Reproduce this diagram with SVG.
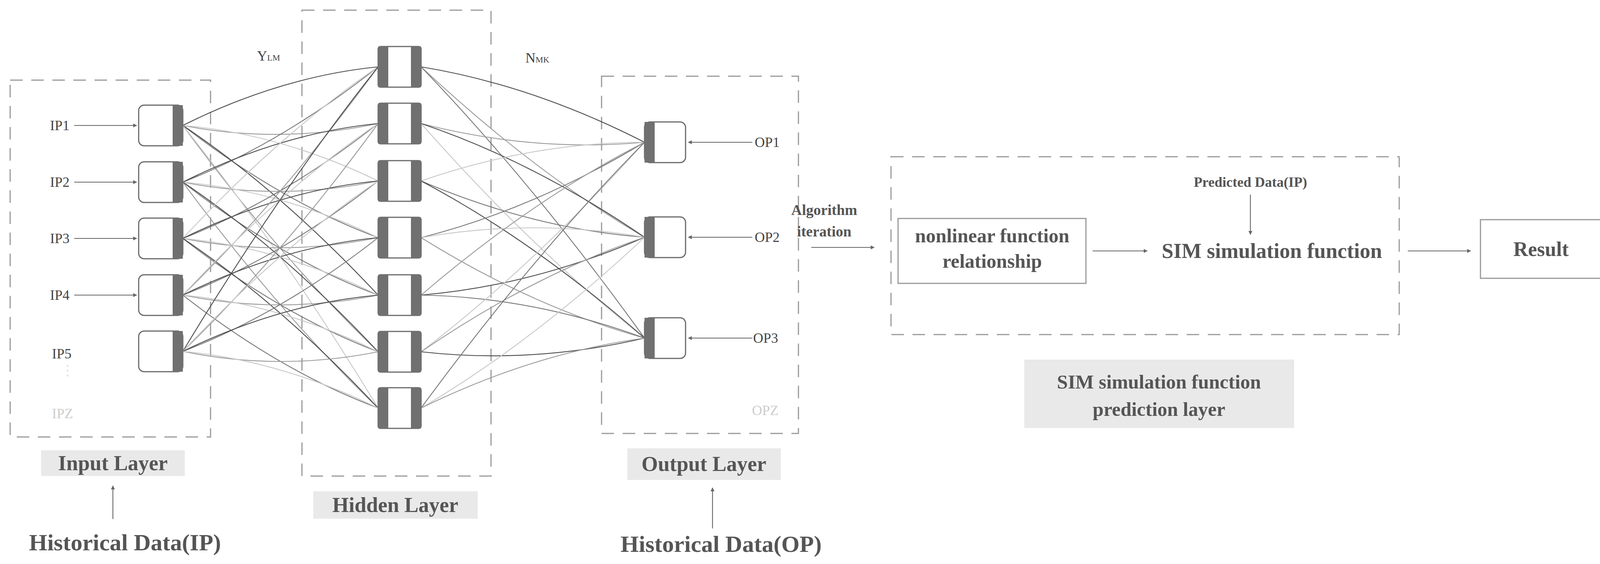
<svg xmlns="http://www.w3.org/2000/svg" width="4124" height="1443" viewBox="0 0 4124 1443">
<style>
.dash{fill:none;stroke:#9a9a9a;stroke-width:3;stroke-dasharray:32 22}
.nd{fill:#fff;stroke:#6a6a6a;stroke-width:3}
.bar{fill:#707070}
.lbl{font-family:"Liberation Serif",serif;font-size:36px;fill:#444}
.big{font-family:"Liberation Serif",serif;font-weight:bold;font-size:54px;fill:#555}
.hd{font-family:"Liberation Serif",serif;font-weight:bold;font-size:60px;fill:#555}
.cd{font-family:"Liberation Serif",serif;font-weight:bold;fill:#555}
.lb{fill:#e9e9e9}
.ar{stroke:#666;stroke-width:3;fill:none;marker-end:url(#ah)}
.c0{stroke:#4a4a4a}.c1{stroke:#9a9a9a}.c2{stroke:#c8c8c8}.c3{stroke:#777}
#conn path{fill:none;stroke-width:2.2}
</style>
<defs>
<marker id="ah" markerWidth="10" markerHeight="10" refX="9" refY="5" orient="auto" markerUnits="userSpaceOnUse" viewBox="0 0 10 10"><path d="M0,0 L10,5 L0,10 Z" fill="#666"/></marker>
</defs>
<rect width="4124" height="1443" fill="#fff"/>
<rect class="dash" x="26" y="205" width="513" height="913"/>
<rect class="dash" x="773" y="26" width="484" height="1192"/>
<rect class="dash" x="1540" y="195" width="504" height="914"/>
<rect class="dash" x="2281" y="401" width="1301" height="455"/>
<g id="conn">
<path class="c0" d="M468 321 Q718 196 968 171"/><path class="c1" d="M468 321 Q718 369 968 316"/><path class="c2" d="M468 321 Q718 342 968 463"/><path class="c3" d="M468 321 Q718 515 968 608"/><path class="c0" d="M468 321 Q718 488 968 755"/><path class="c1" d="M468 321 Q718 661 968 900"/><path class="c2" d="M468 321 Q718 633 968 1044"/>
<path class="c3" d="M468 466 Q718 369 968 171"/><path class="c0" d="M468 466 Q718 341 968 316"/><path class="c1" d="M468 466 Q718 515 968 463"/><path class="c2" d="M468 466 Q718 487 968 608"/><path class="c3" d="M468 466 Q718 661 968 755"/><path class="c0" d="M468 466 Q718 633 968 900"/><path class="c1" d="M468 466 Q718 805 968 1044"/>
<path class="c2" d="M468 610 Q718 341 968 171"/><path class="c3" d="M468 610 Q718 513 968 316"/><path class="c0" d="M468 610 Q718 487 968 463"/><path class="c1" d="M468 610 Q718 659 968 608"/><path class="c2" d="M468 610 Q718 633 968 755"/><path class="c3" d="M468 610 Q718 805 968 900"/><path class="c0" d="M468 610 Q718 777 968 1044"/>
<path class="c1" d="M468 755 Q718 513 968 171"/><path class="c2" d="M468 755 Q718 486 968 316"/><path class="c3" d="M468 755 Q718 659 968 463"/><path class="c0" d="M468 755 Q718 632 968 608"/><path class="c1" d="M468 755 Q718 805 968 755"/><path class="c2" d="M468 755 Q718 778 968 900"/><path class="c3" d="M468 755 Q718 950 968 1044"/>
<path class="c0" d="M468 899 Q718 485 968 171"/><path class="c1" d="M468 899 Q718 658 968 316"/><path class="c2" d="M468 899 Q718 631 968 463"/><path class="c3" d="M468 899 Q718 804 968 608"/><path class="c0" d="M468 899 Q718 777 968 755"/><path class="c1" d="M468 899 Q718 950 968 900"/><path class="c2" d="M468 899 Q718 922 968 1044"/>
<path class="c0" d="M1078 171 Q1364 218 1650 364"/><path class="c1" d="M1078 171 Q1364 439 1650 607"/><path class="c3" d="M1078 171 Q1364 468 1650 865"/>
<path class="c1" d="M1078 316 Q1364 390 1650 364"/><path class="c0" d="M1078 316 Q1364 412 1650 607"/><path class="c2" d="M1078 316 Q1364 640 1650 865"/>
<path class="c2" d="M1078 463 Q1364 364 1650 364"/><path class="c3" d="M1078 463 Q1364 585 1650 607"/><path class="c0" d="M1078 463 Q1364 614 1650 865"/>
<path class="c3" d="M1078 608 Q1364 536 1650 364"/><path class="c2" d="M1078 608 Q1364 558 1650 607"/><path class="c1" d="M1078 608 Q1364 786 1650 865"/>
<path class="c1" d="M1078 755 Q1364 510 1650 364"/><path class="c0" d="M1078 755 Q1364 731 1650 607"/><path class="c3" d="M1078 755 Q1364 760 1650 865"/>
<path class="c2" d="M1078 900 Q1364 682 1650 364"/><path class="c1" d="M1078 900 Q1364 704 1650 607"/><path class="c0" d="M1078 900 Q1364 932 1650 865"/>
<path class="c3" d="M1078 1044 Q1364 654 1650 364"/><path class="c2" d="M1078 1044 Q1364 876 1650 607"/><path class="c1" d="M1078 1044 Q1364 904 1650 865"/>
<path class="ar" d="M190 321 H350"/><path class="ar" d="M190 466 H350"/><path class="ar" d="M190 610 H350"/><path class="ar" d="M190 755 H350"/>
<path class="ar" d="M1926 364 H1762"/><path class="ar" d="M1926 607 H1762"/><path class="ar" d="M1926 865 H1762"/>
<path class="ar" d="M289 1328 V1243"/><path class="ar" d="M1824 1352 V1248"/>
<path class="ar" d="M2077 633 H2238"/><path class="ar" d="M2797 642 H2937"/><path class="ar" d="M3201 498 V600"/><path class="ar" d="M3604 642 H3765"/>
</g>
<g id="in1"><rect class="nd" x="355" y="269" width="113" height="104" rx="14"/><rect class="bar" x="442" y="269" width="26" height="104"/><text class="lbl" x="128" y="333">IP1</text></g>
<g id="in2"><rect class="nd" x="355" y="414" width="113" height="104" rx="14"/><rect class="bar" x="442" y="414" width="26" height="104"/><text class="lbl" x="128" y="478">IP2</text></g>
<g id="in3"><rect class="nd" x="355" y="558" width="113" height="104" rx="14"/><rect class="bar" x="442" y="558" width="26" height="104"/><text class="lbl" x="128" y="622">IP3</text></g>
<g id="in4"><rect class="nd" x="355" y="703" width="113" height="104" rx="14"/><rect class="bar" x="442" y="703" width="26" height="104"/><text class="lbl" x="128" y="767">IP4</text></g>
<g id="in5"><rect class="nd" x="355" y="847" width="113" height="104" rx="14"/><rect class="bar" x="442" y="847" width="26" height="104"/><text class="lbl" x="133" y="917">IP5</text></g>
<text class="lbl" x="133" y="1070" style="fill:#ccc">IPZ</text>
<text class="lbl" x="155" y="960" style="fill:#ddd">⋮</text>
<g id="h1"><rect class="nd" x="968" y="119" width="110" height="104" rx="6"/><rect class="bar" x="968" y="119" width="26" height="104"/><rect class="bar" x="1052" y="119" width="26" height="104"/></g>
<g id="h2"><rect class="nd" x="968" y="264" width="110" height="104" rx="6"/><rect class="bar" x="968" y="264" width="26" height="104"/><rect class="bar" x="1052" y="264" width="26" height="104"/></g>
<g id="h3"><rect class="nd" x="968" y="411" width="110" height="104" rx="6"/><rect class="bar" x="968" y="411" width="26" height="104"/><rect class="bar" x="1052" y="411" width="26" height="104"/></g>
<g id="h4"><rect class="nd" x="968" y="556" width="110" height="104" rx="6"/><rect class="bar" x="968" y="556" width="26" height="104"/><rect class="bar" x="1052" y="556" width="26" height="104"/></g>
<g id="h5"><rect class="nd" x="968" y="703" width="110" height="104" rx="6"/><rect class="bar" x="968" y="703" width="26" height="104"/><rect class="bar" x="1052" y="703" width="26" height="104"/></g>
<g id="h6"><rect class="nd" x="968" y="848" width="110" height="104" rx="6"/><rect class="bar" x="968" y="848" width="26" height="104"/><rect class="bar" x="1052" y="848" width="26" height="104"/></g>
<g id="h7"><rect class="nd" x="968" y="992" width="110" height="104" rx="6"/><rect class="bar" x="968" y="992" width="26" height="104"/><rect class="bar" x="1052" y="992" width="26" height="104"/></g>
<g id="o1"><rect class="nd" x="1650" y="312" width="105" height="104" rx="14"/><rect class="bar" x="1650" y="312" width="26" height="104"/><text class="lbl" x="1932" y="376">OP1</text></g>
<g id="o2"><rect class="nd" x="1650" y="555" width="105" height="104" rx="14"/><rect class="bar" x="1650" y="555" width="26" height="104"/><text class="lbl" x="1932" y="619">OP2</text></g>
<g id="o3"><rect class="nd" x="1650" y="813" width="105" height="104" rx="14"/><rect class="bar" x="1650" y="813" width="26" height="104"/><text class="lbl" x="1928" y="877">OP3</text></g>
<text class="lbl" x="1925" y="1062" style="fill:#ccc">OPZ</text>
<text class="lbl" x="658" y="155">Y<tspan font-size="22">LM</tspan></text>
<text class="lbl" x="1345" y="160">N<tspan font-size="22">MK</tspan></text>
<g id="inputLayer"><rect class="lb" x="105" y="1152" width="368" height="66"/><text class="big" x="289" y="1203" text-anchor="middle">Input Layer</text></g>
<g id="hiddenLayer"><rect class="lb" x="802" y="1257" width="421" height="70"/><text class="big" x="1012" y="1310" text-anchor="middle">Hidden Layer</text></g>
<g id="outputLayer"><rect class="lb" x="1606" y="1147" width="393" height="81"/><text class="big" x="1802" y="1205" text-anchor="middle">Output Layer</text></g>
<text class="hd" x="320" y="1408" text-anchor="middle">Historical Data(IP)</text>
<text class="hd" x="1846" y="1412" text-anchor="middle">Historical Data(OP)</text>
<text class="cd" x="2110" y="550" font-size="38" text-anchor="middle">Algorithm</text>
<text class="cd" x="2110" y="605" font-size="38" text-anchor="middle">iteration</text>
<g id="nonlinear"><rect x="2299" y="559" width="481" height="166" fill="#fff" stroke="#999" stroke-width="3"/><text class="cd" x="2540" y="620" font-size="50" text-anchor="middle">nonlinear function</text><text class="cd" x="2540" y="685" font-size="50" text-anchor="middle">relationship</text></g>
<text class="cd" x="3201" y="478" font-size="36" text-anchor="middle">Predicted Data(IP)</text>
<text class="cd" x="3256" y="660" font-size="54" text-anchor="middle">SIM simulation function</text>
<g id="result"><rect x="3790" y="562" width="311" height="150" fill="#fff" stroke="#999" stroke-width="3"/><text class="cd" x="3945" y="655" font-size="52" text-anchor="middle">Result</text></g>
<g id="simLayer"><rect class="lb" x="2622" y="920" width="691" height="175"/><text class="cd" x="2967" y="994" font-size="50" text-anchor="middle">SIM simulation function</text><text class="cd" x="2967" y="1064" font-size="50" text-anchor="middle">prediction layer</text></g>
</svg>
